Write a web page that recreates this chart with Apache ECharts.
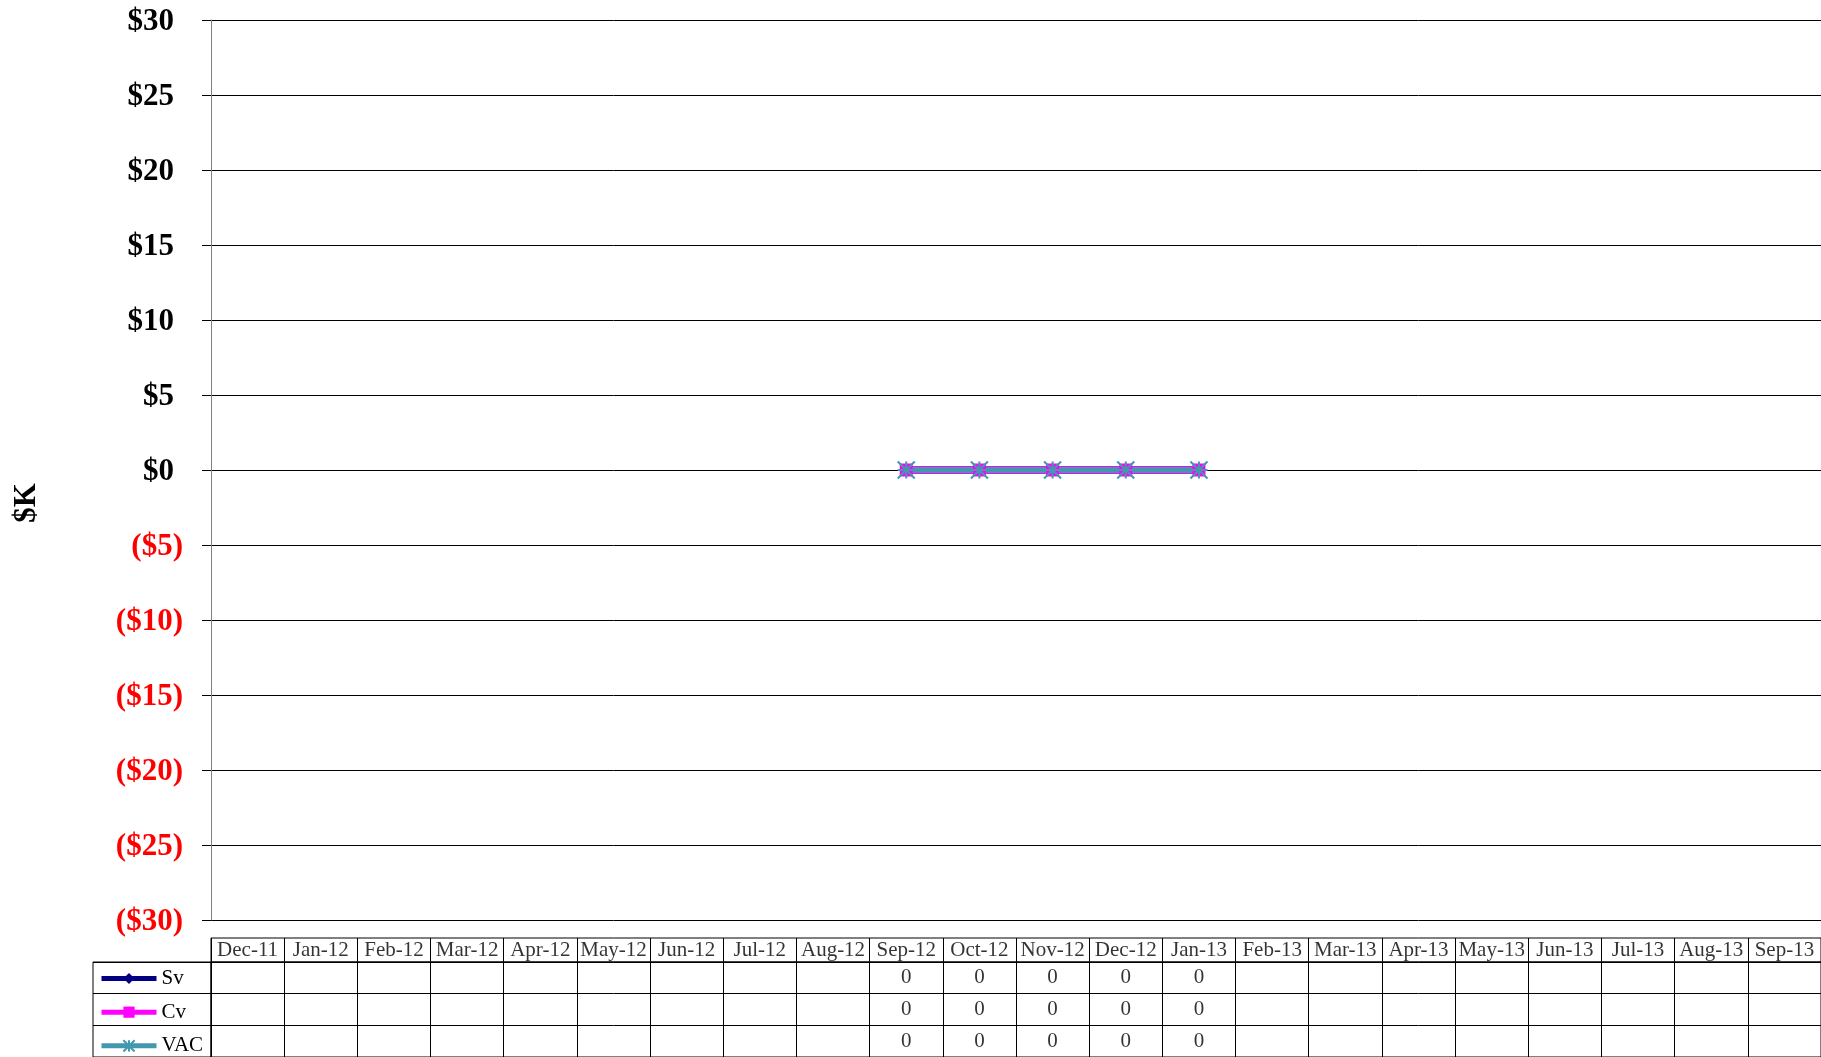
<!DOCTYPE html>
<html>
<head>
<meta charset="utf-8">
<script src="https://cdn.jsdelivr.net/npm/echarts@6/dist/echarts.min.js"></script>
<style>
html, body { margin: 0; padding: 0; background: #fff; }
#main { width: 1821px; height: 1057px; }
</style>
</head>
<body>
<div id="main"></div>
<script>
var months = ['Dec-11', 'Jan-12', 'Feb-12', 'Mar-12', 'Apr-12', 'May-12', 'Jun-12', 'Jul-12', 'Aug-12',
    'Sep-12', 'Oct-12', 'Nov-12', 'Dec-12', 'Jan-13', 'Feb-13', 'Mar-13', 'Apr-13', 'May-13',
    'Jun-13', 'Jul-13', 'Aug-13', 'Sep-13'];
var svData  = [null, null, null, null, null, null, null, null, null, 0, 0, 0, 0, 0, null, null, null, null, null, null, null, null];
var cvData  = [null, null, null, null, null, null, null, null, null, 0, 0, 0, 0, 0, null, null, null, null, null, null, null, null];
var vacData = [null, null, null, null, null, null, null, null, null, 0, 0, 0, 0, 0, null, null, null, null, null, null, null, null];
var rowNames = ['Sv', 'Cv', 'VAC'];
var rowColors = ['#000080', '#ff00ff', '#4198af'];
var yMin = -30, yMax = 30, yStep = 5;

var serif = 'Liberation Serif, Times New Roman, serif';
// asterisk marker used by VAC
var starPath = 'path://M0,0L10,10M10,0L0,10M5,0L5,10M0,5L10,5';

function cellData(values, row) {
    var res = [];
    for (var i = 0; i < values.length; i++) {
        if (values[i] !== null) res.push([i, row, values[i]]);
    }
    return res;
}

function tableXAxis(grid) {
    return {
        type: 'category', gridIndex: grid, data: months, boundaryGap: true,
        axisLine: { show: false }, axisTick: { show: false }, axisLabel: { show: false },
        splitLine: { show: true, interval: 0, lineStyle: { color: '#000', width: 1 } }
    };
}

function textSeries(name, grid, data, fmt) {
    return {
        name: name, type: 'scatter', xAxisIndex: grid, yAxisIndex: grid,
        symbolSize: 1, itemStyle: { color: 'rgba(0,0,0,0)' }, silent: true,
        label: {
            show: true, position: 'inside', formatter: fmt,
            color: '#000', fontSize: 21, fontFamily: serif, padding: [2, 0, 0, 0]
        },
        data: data
    };
}

var chart = echarts.init(document.getElementById('main'));
var option = {
    animation: false,
    backgroundColor: '#fff',
    textStyle: { fontFamily: serif },
    legend: {
        data: rowNames,
        orient: 'vertical',
        left: 99, top: 968,
        padding: 0,
        itemWidth: 55, itemHeight: 14, itemGap: 12.67,
        selectedMode: false,
        lineStyle: { width: 5 },
        textStyle: { fontSize: 21, fontFamily: serif, color: '#000', lineHeight: 20 }
    },
    grid: [
        { left: 211, right: 0, top: 20, height: 900 },
        { left: 211, right: 0, top: 938, height: 24, show: true, borderColor: '#000', borderWidth: 1 },
        { left: 211, right: 0, top: 962, height: 98, show: true, borderColor: '#000', borderWidth: 1 },
        { left: 93, width: 118, top: 962, height: 98, show: true, borderColor: '#000', borderWidth: 1 }
    ],
    xAxis: [
        {
            type: 'category', gridIndex: 0, data: months, boundaryGap: true,
            axisLine: { show: false }, axisTick: { show: false }, axisLabel: { show: false },
            splitLine: { show: false }
        },
        tableXAxis(1),
        tableXAxis(2),
        { type: 'category', gridIndex: 3, data: [''], show: false }
    ],
    yAxis: [
        {
            type: 'value', gridIndex: 0, min: yMin, max: yMax, interval: yStep,
            name: '$K', nameLocation: 'middle', nameRotate: 90, nameGap: 169,
            nameTextStyle: { fontSize: 31, fontWeight: 'bold', color: '#000', fontFamily: serif, padding: [0, 66, 0, 0] },
            axisLine: { show: true, lineStyle: { color: '#808080', width: 1 } },
            axisTick: { show: true, length: 9, lineStyle: { color: '#000', width: 1 } },
            splitLine: { show: true, lineStyle: { color: '#000', width: 1 } },
            axisLabel: {
                margin: 28,
                formatter: function (v) {
                    if (v < 0) return '{neg|($' + (-v) + ')}';
                    return '{pos|$' + v + '}';
                },
                rich: {
                    pos: { color: '#000', fontSize: 31, fontWeight: 'bold', fontFamily: serif, padding: [4, 9, 0, 0] },
                    neg: { color: '#ff0000', fontSize: 31, fontWeight: 'bold', fontFamily: serif, padding: [4, 0, 0, 0] }
                }
            }
        },
        { type: 'category', gridIndex: 1, data: [''], show: false },
        {
            type: 'category', gridIndex: 2, data: rowNames, inverse: true,
            axisLine: { show: false }, axisTick: { show: false }, axisLabel: { show: false },
            splitLine: { show: true, interval: 0, lineStyle: { color: '#000', width: 1 } }
        },
        {
            type: 'category', gridIndex: 3, data: rowNames, inverse: true,
            axisLine: { show: false }, axisTick: { show: false }, axisLabel: { show: false },
            splitLine: { show: true, interval: 0, lineStyle: { color: '#000', width: 1 } }
        }
    ],
    series: [
        {
            name: 'Sv', type: 'line', data: svData,
            symbol: 'diamond', symbolSize: 14,
            lineStyle: { color: rowColors[0], width: 6 },
            itemStyle: { color: rowColors[0] }
        },
        {
            name: 'Cv', type: 'line', data: cvData,
            symbol: 'rect', symbolSize: 13,
            lineStyle: { color: rowColors[1], width: 8 },
            itemStyle: { color: rowColors[1] }
        },
        {
            name: 'VAC', type: 'line', data: vacData,
            symbol: starPath, symbolSize: 17,
            lineStyle: { color: rowColors[2], width: 6 },
            itemStyle: { color: rowColors[2], borderColor: rowColors[2], borderWidth: 2 }
        },
        textSeries('header', 1, months.map(function (m, i) { return [i, 0]; }),
            function (p) { return months[p.dataIndex]; }),
        textSeries('svRow', 2, cellData(svData, 0), function (p) { return p.value[2]; }),
        textSeries('cvRow', 2, cellData(cvData, 1), function (p) { return p.value[2]; }),
        textSeries('vacRow', 2, cellData(vacData, 2), function (p) { return p.value[2]; })
    ]
};
chart.setOption(option);
</script>
</body>
</html>
